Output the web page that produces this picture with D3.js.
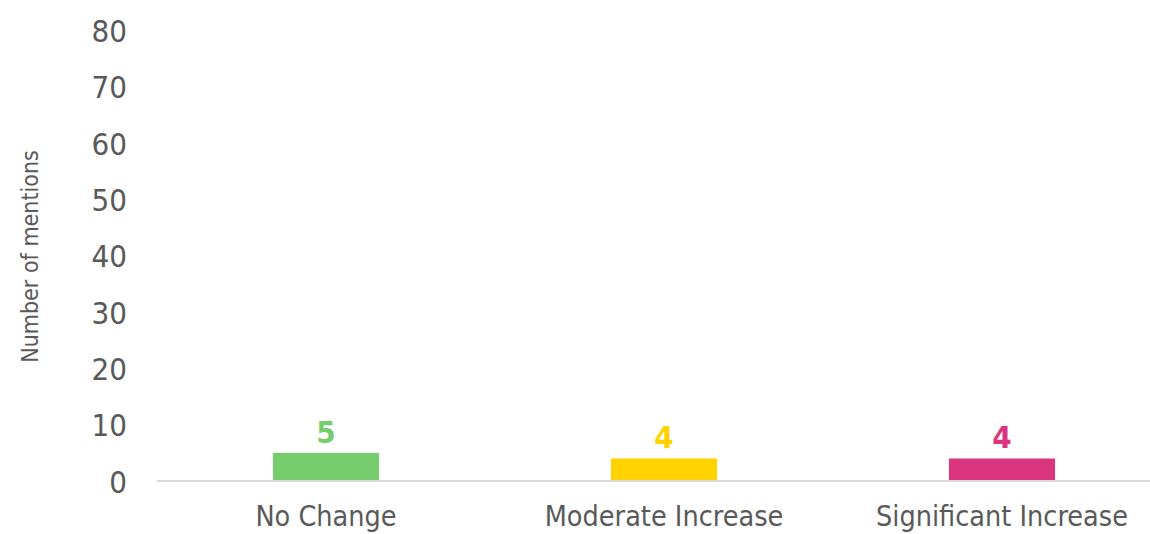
<!DOCTYPE html>
<html>
<head>
<meta charset="utf-8">
<script src="https://cdn.jsdelivr.net/npm/d3@7"></script>
<style>
  html, body { margin: 0; padding: 0; background: #ffffff; }
  svg { display: block; }
  text { font-family: Tahoma, "DejaVu Sans Condensed", "DejaVu Sans", sans-serif; }
</style>
</head>
<body>
<svg id="chart" width="1150" height="534"></svg>
<script>
// Mentions of each change level
const categories = ["No Change", "Moderate Increase", "Significant Increase"];
const mentions = [5, 4, 4];
const barColors = ["#77CC6D", "#FFD200", "#DB3580"];
const yTicks = [0, 10, 20, 30, 40, 50, 60, 70, 80];

const svg = d3.select("#chart");

const x = d3.scaleBand()
  .domain(categories)
  .range([157, 1171])
  .paddingInner(0.686)
  .paddingOuter(0.343);

const y = d3.scaleLinear()
  .domain([0, 80])
  .range([481, 30.5]);

// Y axis: labels only, no line or tick marks
const yAxis = svg.append("g")
  .attr("transform", "translate(127,0)")
  .call(d3.axisLeft(y).tickValues(yTicks).tickSize(0).tickPadding(0));
yAxis.select(".domain").remove();
yAxis.selectAll("text")
  .attr("fill", "#595959")
  .style("font-size", "31px")
  .attr("dy", "0.36em");

// Y axis title
svg.append("text")
  .attr("transform", `translate(38,${(148 + 365) / 2}) rotate(-90)`)
  .attr("text-anchor", "middle")
  .attr("fill", "#595959")
  .style("font-size", "23px")
  .text("Number of mentions");

// Bars
svg.append("g").selectAll("rect")
  .data(categories)
  .join("rect")
  .attr("x", d => x(d))
  .attr("width", x.bandwidth())
  .attr("y", (d, i) => y(mentions[i]))
  .attr("height", (d, i) => y(0) - y(mentions[i]))
  .attr("fill", (d, i) => barColors[i]);

// Baseline
svg.append("line")
  .attr("x1", 157).attr("x2", 1150)
  .attr("y1", y(0)).attr("y2", y(0))
  .attr("stroke", "#D9D9D9")
  .attr("stroke-width", 2);

// Value labels
svg.append("g").selectAll("text")
  .data(categories)
  .join("text")
  .attr("x", d => x(d) + x.bandwidth() / 2)
  .attr("y", (d, i) => y(mentions[i]) - 10)
  .attr("text-anchor", "middle")
  .attr("fill", (d, i) => barColors[i])
  .style("font-size", "31px")
  .style("font-weight", "bold")
  .text((d, i) => mentions[i]);

// Category labels
const xAxis = svg.append("g")
  .attr("transform", `translate(0,${y(0)})`)
  .call(d3.axisBottom(x).tickSize(0).tickPadding(0));
xAxis.select(".domain").remove();
xAxis.selectAll("text")
  .attr("fill", "#595959")
  .style("font-size", "28.5px")
  .attr("y", 45)
  .attr("dy", 0);
</script>
</body>
</html>
